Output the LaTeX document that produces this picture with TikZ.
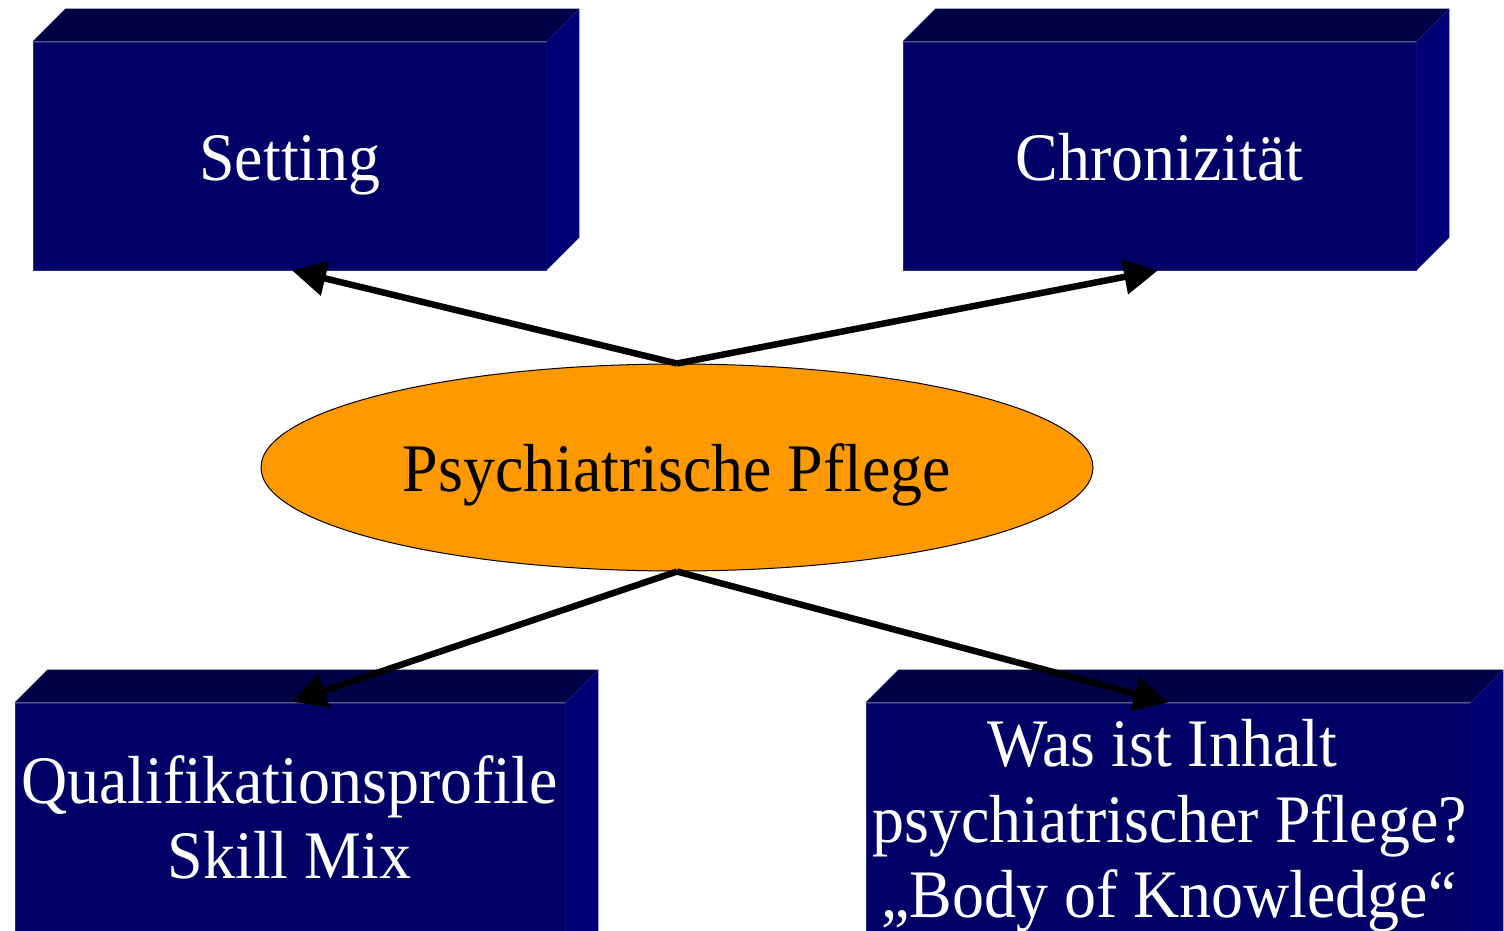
\documentclass[tikz,border=0pt]{standalone}
\usepackage{fontspec}
\setmainfont{Liberation Serif}[FakeStretch=0.94]
\usetikzlibrary{arrows.meta,shapes.geometric}
\definecolor{navyfront}{RGB}{0,0,102}
\definecolor{navytop}{RGB}{0,0,70}
\definecolor{navyside}{RGB}{0,0,118}
\definecolor{navyedge}{RGB}{40,40,130}
\definecolor{pflegeorange}{RGB}{255,153,0}
\newcommand{\blockfaces}[1]{%
  % top and right faces of a block whose front face is node #1
  \fill[navytop] (#1.north west) -- ++(33,-33) -- ([shift={(33,-33)}]#1.north east) -- (#1.north east) -- cycle;
  \fill[navyside] (#1.north east) -- ++(33,-33) -- ([shift={(33,-33)}]#1.south east) -- (#1.south east) -- cycle;
}
\begin{document}
\begin{tikzpicture}[x=1pt,y=-1pt,
  front/.style={rectangle, fill=navyfront, draw=navyedge, line width=0.8pt, inner sep=0pt},
  label text/.style={font=\fontsize{68}{76}\selectfont, inner sep=0pt, anchor=base},
  arrowline/.style={line width=6.5pt, -{Triangle[length=34pt,width=34pt]}}]
\useasboundingbox (0,0) rectangle (1504,930);
\clip (0,0) rectangle (1504,930);
\fill[white] (0,0) rectangle (1504,930);

% front faces of the four blocks
\node[front, minimum width=513pt, minimum height=228pt] (set) at (289.5,156) {};
\node[front, minimum width=513pt, minimum height=228pt] (chr) at (1159.5,156) {};
\node[front, minimum width=550pt, minimum height=270pt] (qual) at (290,838) {};
\node[front, minimum width=604pt, minimum height=270pt] (was) at (1168,838) {};
\blockfaces{set}
\blockfaces{chr}
\blockfaces{qual}
\blockfaces{was}

% block texts
\node[label text, text=white] (settxt) at (290,180) {Setting};
\node[label text, text=white] (chrtxt) at (1159.5,180) {Chronizität};
\node[label text, text=white] (qual1) at (289.5,803) {Qualifikationsprofile};
\node[label text, text=white] (qual2) at (289.5,878) {Skill Mix};
\node[label text, text=white] (was1) at (1162,766) {Was ist Inhalt};
\node[label text, text=white] (was2) at (1169.5,842) {psychiatrischer Pflege?};
\node[label text, text=white] (was3) at (1169,917) {„Body of Knowledge“};

% central ellipse
\node[ellipse, fill=pflegeorange, draw=black, line width=1pt, minimum width=832pt, minimum height=207pt, inner sep=0pt] (pp) at (677,467.5) {};
\node[label text, text=black] (pptxt) at (677,491) {Psychiatrische Pflege};

% connectors
\draw[arrowline] (pp.north) -- ([xshift=2.5pt]set.south);
\draw[arrowline] (pp.north) -- ([xshift=-1.5pt]chr.south);
\draw[arrowline] (pp.south) -- ([xshift=2pt,yshift=1pt]qual.north);
\draw[arrowline] (pp.south) -- (was.north);
\end{tikzpicture}
\end{document}
